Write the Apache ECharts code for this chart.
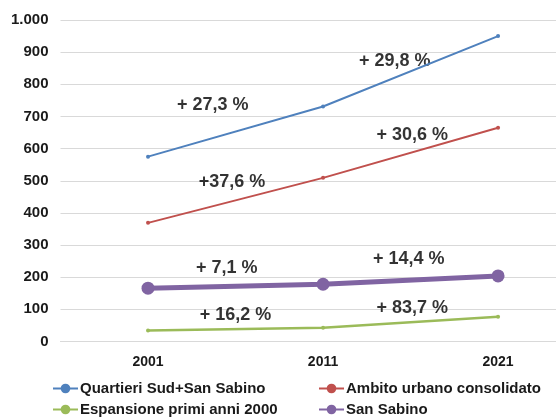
<!DOCTYPE html>
<html>
<head>
<meta charset="utf-8">
<script src="https://cdn.jsdelivr.net/npm/echarts@6/dist/echarts.min.js"></script>
<style>html,body{margin:0;padding:0;background:#fff}#c{width:556px;height:418px}</style>
</head>
<body>
<div id="c"></div>
<script>
// ---- data ----
const categories = ['2001', '2011', '2021'];
const quartieriSud = [575, 731, 950];
const ambitoUrbano = [369, 509, 665];
const espansione = [34, 43, 77];
const sanSabino = [166, 178, 204];
const yTicks = [0, 100, 200, 300, 400, 500, 600, 700, 800, 900, 1000];
// annotation texts with their anchor (category-index position, value)
const annotationTexts = ['+ 27,3 %', '+ 29,8 %', '+37,6 %', '+ 30,6 %', '+ 7,1 %', '+ 14,4 %', '+ 16,2 %', '+ 83,7 %'];
const annotationAnchors = [[0.37, 735], [1.41, 872], [0.48, 495], [1.51, 642], [0.45, 230], [1.49, 258], [0.50, 82], [1.51, 104]];

const font = 'Liberation Sans, Arial, sans-serif';
const chart = echarts.init(document.getElementById('c'));

function lineSeries(name, data, color, width, symSize) {
  return {
    name, type: 'line',
    data: data.map((v, i) => [i, v]),
    symbol: 'circle', symbolSize: symSize,
    showAllSymbol: true,
    lineStyle: { color, width },
    itemStyle: { color },
    emphasis: { disabled: true },
    animation: false
  };
}

const legendText = { fontFamily: font, fontWeight: 'bold', fontSize: 15, color: '#1a1a1a', padding: [0, 0, 0, -3] };

chart.setOption({
  animation: false,
  grid: { left: 60.5, right: 0, top: 20, bottom: 76.5, containLabel: false },
  xAxis: {
    type: 'value', min: -0.5, max: 2.331,
    splitLine: { show: false },
    axisLine: { show: true, lineStyle: { color: '#d9d9d9' } },
    axisTick: { show: false },
    axisLabel: {
      customValues: [0, 1, 2],
      formatter: v => categories[Math.round(v)],
      color: '#1a1a1a', fontFamily: font, fontWeight: 'bold', fontSize: 14, margin: 14
    }
  },
  yAxis: {
    type: 'value', min: 0, max: 1000, interval: 100,
    axisLine: { show: false }, axisTick: { show: false },
    splitLine: { lineStyle: { color: '#d9d9d9', width: 1 } },
    axisLabel: {
      color: '#1a1a1a', fontFamily: font, fontWeight: 'bold', fontSize: 15, margin: 12,
      formatter: v => yTicks.includes(v) ? String(v).replace(/\B(?=(\d{3})+(?!\d))/g, '.') : ''
    }
  },
  legend: [
    {
      data: ['Quartieri Sud+San Sabino', 'Espansione primi anni 2000'],
      orient: 'vertical', left: 47, top: 376, height: 60, itemWidth: 25, itemHeight: 12, itemGap: 6,
      textStyle: legendText
    },
    {
      data: ['Ambito urbano consolidato', 'San Sabino'],
      orient: 'vertical', left: 313, top: 376, height: 60, itemWidth: 25, itemHeight: 12, itemGap: 6,
      textStyle: legendText
    }
  ],
  series: [
    lineSeries('Quartieri Sud+San Sabino', quartieriSud, '#4F81BD', 2, 4),
    lineSeries('Ambito urbano consolidato', ambitoUrbano, '#C0504D', 2, 4),
    lineSeries('Espansione primi anni 2000', espansione, '#9BBB59', 2.5, 4),
    lineSeries('San Sabino', sanSabino, '#8064A2', 5, 13),
    {
      type: 'scatter', symbolSize: 0, silent: true,
      data: annotationAnchors.map((p, i) => ({ value: p, name: annotationTexts[i] })),
      label: {
        show: true, position: 'inside', formatter: p => p.name,
        fontFamily: font, fontWeight: 'bold', fontSize: 18, color: '#000',
        textBorderWidth: 0
      },
      animation: false
    }
  ]
});
</script>
</body>
</html>
